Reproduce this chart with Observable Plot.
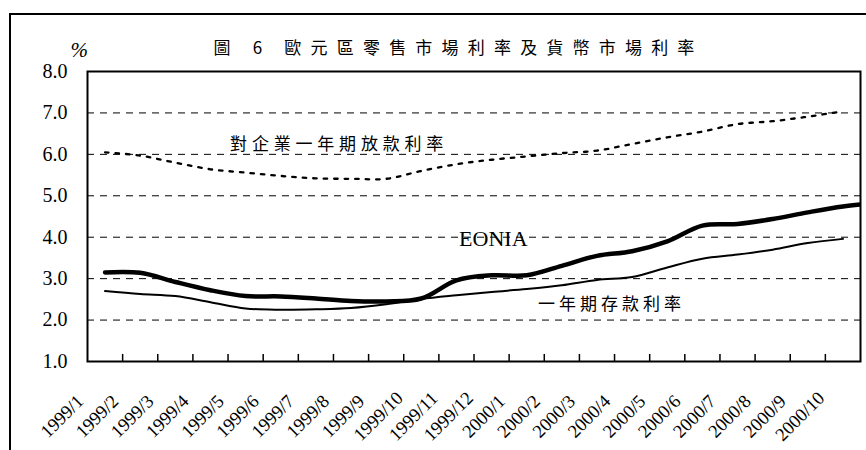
<!DOCTYPE html>
<html><head><meta charset="utf-8">
<script src="https://cdn.jsdelivr.net/npm/d3@7"></script>
<script src="https://cdn.jsdelivr.net/npm/@observablehq/plot@0.6"></script>
<style>
body{margin:0;background:#fff;}
#wrap{position:relative;width:866px;height:450px;overflow:hidden;}
#border{position:absolute;left:9px;top:13px;width:900px;height:500px;border-left:2px solid #000;border-top:2px solid #000;pointer-events:none;}
</style></head><body>
<div id="wrap"><div id="chart"></div><div id="border"></div></div>
<script>
const months = ["1999/1","1999/2","1999/3","1999/4","1999/5","1999/6","1999/7","1999/8","1999/9","1999/10","1999/11","1999/12",
  "2000/1","2000/2","2000/3","2000/4","2000/5","2000/6","2000/7","2000/8","2000/9","2000/10"];
// EONIA: the 23rd value (2000/11) runs past the right edge of the frame and is clipped
const eonia = [3.15,3.14,2.92,2.72,2.58,2.57,2.52,2.46,2.45,2.52,2.96,3.08,3.08,3.31,3.55,3.66,3.90,4.28,4.32,4.44,4.60,4.74,4.83];
const loanRate = [6.05,5.97,5.80,5.64,5.56,5.48,5.42,5.41,5.41,5.60,5.76,5.87,5.95,6.03,6.09,6.25,6.41,6.55,6.73,6.80,6.91,7.04];
const depositRate = [2.70,2.63,2.58,2.43,2.28,2.25,2.26,2.29,2.38,2.51,2.60,2.68,2.75,2.84,2.97,3.04,3.27,3.48,3.58,3.70,3.86,3.96];
const yTicks = [1,2,3,4,5,6,7,8];
const gridValues = [2,3,4,5,6,7];
const title = "圖 6 歐元區零售市場利率及貨幣市場利率";
const unitLabel = "%";
const loanLabel = "對企業一年期放款利率";
const eoniaLabel = "EONIA";
const depositLabel = "一年期存款利率";

const toRows = arr => arr.map((v, i) => ({i, v}));
const serif = "Liberation Serif, Times New Roman, serif";
const cjk = "Noto Sans CJK TC, Noto Sans CJK SC, sans-serif";
const boundaries = d3.range(0.5, months.length - 1, 1);

const chart = Plot.plot({
  width: 866, height: 450,
  marginLeft: 87, marginRight: 6, marginTop: 71, marginBottom: 89,
  style: {background: "#fff", color: "#000", overflow: "visible"},
  x: {type: "linear", domain: [-0.5, months.length - 0.5], axis: null},
  y: {domain: [1, 8]},
  marks: [
    Plot.ruleY(gridValues, {stroke: "#000", strokeWidth: 1, strokeDasharray: "7,6"}),
    Plot.ruleX(boundaries, {y1: 1, y2: 1.17, stroke: "#000", strokeWidth: 1.5}),
    Plot.line(toRows(depositRate), {x: "i", y: "v", curve: "catmull-rom", stroke: "#000", strokeWidth: 2}),
    Plot.line(toRows(loanRate), {x: "i", y: "v", curve: "catmull-rom", stroke: "#000", strokeWidth: 2.3, strokeDasharray: "3.5,7"}),
    Plot.line(toRows(eonia), {x: "i", y: "v", curve: "catmull-rom", stroke: "#000", strokeWidth: 4.5, clip: true}),
    Plot.frame({stroke: "#000", strokeWidth: 2}),
    Plot.axisY(yTicks, {tickSize: 0, tickPadding: 20, tickFormat: d => d.toFixed(1), fontSize: 20, fontFamily: serif, label: null}),
    Plot.text(d3.range(months.length), {x: d => d, y: () => 1, text: d => months[d], rotate: -45, textAnchor: "middle", lineAnchor: "middle", dx: -43, dy: 55, fontSize: 18.5, fontFamily: serif}),
    Plot.text([unitLabel], {frameAnchor: "top-left", textAnchor: "start", lineAnchor: "middle", dx: -17, dy: -21, fontSize: 21, fontStyle: "italic", fontFamily: serif}),
    Plot.text([title], {frameAnchor: "top-left", textAnchor: "start", lineAnchor: "middle", dx: 126, dy: -23, fontSize: 17, fontFamily: cjk}),
    Plot.text([loanLabel], {x: () => 6.66, y: () => 6.24, text: d => d, fontSize: 17, fontFamily: cjk}),
    Plot.text([eoniaLabel], {x: () => 11.05, y: () => 3.96, text: d => d, fontSize: 22, fontFamily: serif}),
    Plot.text([depositLabel], {x: () => 14.41, y: () => 2.38, text: d => d, fontSize: 17, fontFamily: cjk})
  ]
});
const spacing = new Map([[title, "9.2"], [loanLabel, "4.8"], [depositLabel, "4"]]);
chart.querySelectorAll("text").forEach(t => {
  const s = spacing.get(t.textContent);
  if (s) t.setAttribute("letter-spacing", s);
});
document.getElementById("chart").appendChild(chart);
</script>
</body></html>
